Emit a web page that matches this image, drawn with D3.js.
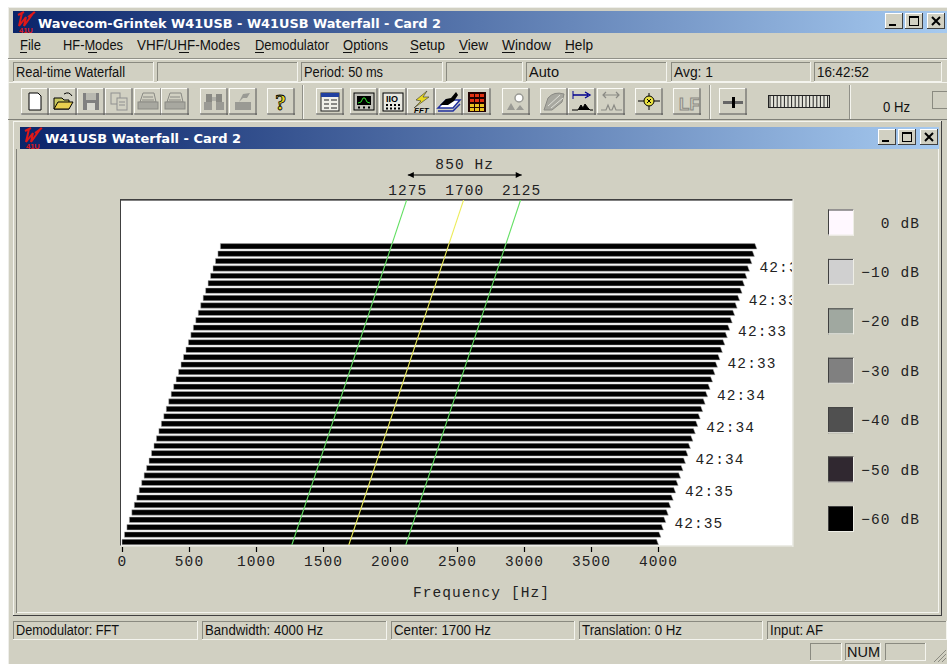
<!DOCTYPE html>
<html>
<head>
<meta charset="utf-8">
<script src="https://cdn.jsdelivr.net/npm/d3@7"></script>
<style>
  html, body { margin: 0; padding: 0; background: #fff; overflow: hidden; }
  svg { display: block; }
  .ui { font-family: "Liberation Sans", sans-serif; font-size: 14px; fill: #111; }
  .mono { font-family: "Liberation Mono", monospace; font-size: 14.5px; fill: #222; letter-spacing: 1.1px; }
</style>
</head>
<body>
<svg id="chart" width="947" height="664"></svg>
<script>
// Waterfall rows, oldest at the bottom. Every row reads as -60 dB across the band
const rowLevels = [-60, -60, -60, -60, -60, -60, -60, -60, -60, -60, -60, -60, -60, -60,
  -60, -60, -60, -60, -60, -60, -60, -60, -60, -60, -60, -60, -60, -60,
  -60, -60, -60, -60, -60, -60, -60, -60, -60, -60, -60, -60, -60];
const timeLabels = ["42:35", "42:35", "42:34", "42:34", "42:34", "42:33", "42:33", "42:33", "42:33"];
const timeLabelRows = [2.6, 6.9, 11.2, 15.5, 19.9, 24.2, 28.5, 32.8, 37.2];
const freqTicks = [0, 500, 1000, 1500, 2000, 2500, 3000, 3500, 4000];
const markerFreqs = [1275, 1700, 2125];
const markerColors = ["#63e063", "#ecec5a", "#63e063"];
const legendDb = [0, -10, -20, -30, -40, -50, -60];
const legendColors = ["#fff8ff", "#d0d0d0", "#a0a8a0", "#808080", "#505050", "#302830", "#000000"];
const bandwidth = 4000;

const menuItems = [["File", 20, 21], ["HF-Modes", 63, 60], ["VHF/UHF-Modes", 137, 103], ["Demodulator", 255, 74],
  ["Options", 343, 45], ["Setup", 410, 35], ["View", 459, 29], ["Window", 502, 49], ["Help", 565, 28]];
const topPanes = [[13, 154, "Real-time Waterfall", 109], [157, 298, "", 0], [301, 443, "Period: 50 ms", 79],
  [446, 523, "", 0], [526, 667, "Auto", 30], [671, 811, "Avg: 1", 39], [814, 942, "16:42:52", 52]];
const bottomPanes = [[13, 198, "Demodulator: FFT", 103], [202, 387, "Bandwidth: 4000 Hz", 118],
  [391, 575, "Center: 1700 Hz", 97], [579, 763, "Translation: 0 Hz", 100], [767, 947, "Input: AF", 53]];
const buttons = [[21, "new"], [49, "open"], [77, "save"], [105, "copy"], [134, "print"], [161, "print"],
  [200, "find"], [229, "tool"], [267, "help"], [316, "list"], [350, "scope"], [379, "io"], [407, "fft"],
  [435, "layers"], [463, "grid"], [502, "zoom"], [540, "fan"], [568, "shift"], [597, "stretch"],
  [635, "target"], [673, "lf"], [719, "slider"]];

const svg = d3.select("#chart");
const defs = svg.append("defs");
const grad = defs.append("linearGradient").attr("id", "titleGrad");
grad.append("stop").attr("offset", "0%").attr("stop-color", "#0a246a");
grad.append("stop").attr("offset", "100%").attr("stop-color", "#a6caf0");
defs.append("clipPath").attr("id", "plotClip").append("rect")
  .attr("x", 121).attr("y", 200).attr("width", 671).attr("height", 345);

const face = "#d1d0c2";

function box(g, x, y, w, h, fill, stroke) {
  return g.append("rect").attr("x", x).attr("y", y).attr("width", w).attr("height", h)
    .attr("fill", fill).attr("stroke", stroke || "none");
}
function hline(g, x1, x2, y, c) {
  g.append("line").attr("x1", x1).attr("x2", x2).attr("y1", y).attr("y2", y).attr("stroke", c);
}
function vline(g, x, y1, y2, c) {
  g.append("line").attr("x1", x).attr("x2", x).attr("y1", y1).attr("y2", y2).attr("stroke", c);
}
function sunken(g, x, y, w, h) {
  hline(g, x, x + w, y + 0.5, "#8a8a80"); vline(g, x + 0.5, y, y + h, "#8a8a80");
  hline(g, x, x + w, y + h - 0.5, "#f4f4ee"); vline(g, x + w - 0.5, y, y + h, "#f4f4ee");
}
function label(g, x, y, str, width, cls) {
  const t = g.append("text").attr("class", cls || "ui").attr("x", x).attr("y", y).text(str);
  if (width) t.attr("textLength", width).attr("lengthAdjust", "spacingAndGlyphs");
  return t;
}
function logo(g, x, y) {
  g.append("path").attr("transform", `translate(${x},${y})`)
    .attr("d", "M4 1 L1 14 L8 5 L6 14 L16 0 M0 3 L6 0 M10 5 L17 0")
    .attr("fill", "none").attr("stroke", "#e01818").attr("stroke-width", 2);
  g.append("text").attr("x", x + 1).attr("y", y + 20.5).attr("fill", "#e01818")
    .attr("font-family", "Liberation Sans").attr("font-size", 7.5).attr("font-weight", "bold").text("41U");
}
function closeButtons(g, xs, y) {
  xs.forEach((x, i) => {
    box(g, x, y, 18, 16, face);
    hline(g, x, x + 18, y + 0.5, "#fff"); vline(g, x + 0.5, y, y + 16, "#fff");
    hline(g, x, x + 18, y + 15.5, "#404040"); vline(g, x + 17.5, y, y + 16, "#404040");
    if (i == 0) box(g, x + 4, y + 11, 7, 2, "#000");
    if (i == 1) { box(g, x + 4.5, y + 3.5, 9, 9, "none", "#000"); hline(g, x + 4, x + 14, y + 4.5, "#000"); }
    if (i == 2) g.append("path").attr("d", `M${x + 5} ${y + 4}L${x + 13} ${y + 12}M${x + 13} ${y + 4}L${x + 5} ${y + 12}`)
      .attr("stroke", "#000").attr("stroke-width", 2);
  });
}

// Application window frame
box(svg, 8, 7, 939, 657, face);
hline(svg, 8, 947, 7.5, "#eeeeea");
vline(svg, 8.5, 7, 664, "#eeeeea");

// Title bar
box(svg, 13, 11, 934, 22, "url(#titleGrad)");
logo(svg, 18, 12);
label(svg, 38, 28, "Wavecom-Grintek W41USB - W41USB Waterfall  - Card 2", 403)
  .style("fill", "#fff").style("font-weight", "bold").style("font-size", "13px").style("font-family", "DejaVu Sans");
closeButtons(svg, [885, 905, 927], 13);

// Menu
menuItems.forEach(m => {
  label(svg, m[1], 50, m[0], m[2]);
});
[[20, 7], [88, 9], [179, 10], [255, 9], [343, 9], [410, 8], [459, 9], [502, 13], [565, 9]].forEach(u => {
  hline(svg, u[0], u[0] + u[1], 52.5, "#111");
});
hline(svg, 8, 947, 58.5, "#909088");
hline(svg, 8, 947, 59.5, "#f4f4ee");

// Top status row
topPanes.forEach(p => {
  sunken(svg, p[0], 62, p[1] - p[0], 20);
  if (p[2]) label(svg, p[0] + 3, 77, p[2], p[3]);
});
hline(svg, 8, 947, 82.5, "#f4f4ee");

// Toolbar
const icons = {
  new: g => g.append("path").attr("d", "M8 5H17L20 8V22H8Z").attr("fill", "#fff").attr("stroke", "#000"),
  open: g => {
    g.append("path").attr("d", "M5 21V10H13L15 12H20V21Z").attr("fill", "#c8c860").attr("stroke", "#000");
    g.append("path").attr("d", "M5 21L9 14H24L20 21Z").attr("fill", "#e8d050").attr("stroke", "#000");
    g.append("path").attr("d", "M15 6Q20 3 23 8").attr("fill", "none").attr("stroke", "#000");
  },
  save: g => { box(g, 6, 5, 16, 17, "#808080"); box(g, 9, 5, 10, 7, "#b8b8b0"); box(g, 10, 15, 8, 7, "#d8d8d0"); },
  copy: g => { box(g, 6, 5, 9, 11, face, "#909090"); box(g, 12, 10, 10, 12, face, "#909090"); hline(g, 14, 20, 14, "#909090"); hline(g, 14, 20, 17, "#909090"); },
  print: g => {
    g.append("path").attr("d", "M9 5H20L22 14H6Z").attr("fill", face).attr("stroke", "#8a8a84");
    box(g, 4, 14, 20, 7, "#a8a8a0", "#8a8a84");
    hline(g, 9, 19, 9, "#8a8a84"); hline(g, 8, 20, 12, "#8a8a84");
  },
  find: g => { box(g, 6, 6, 6, 10, "#8a8a84"); box(g, 16, 6, 6, 10, "#8a8a84"); box(g, 4, 14, 8, 8, "#9a9a94"); box(g, 16, 14, 8, 8, "#9a9a94"); box(g, 12, 9, 4, 4, "#b0b0a8"); },
  tool: g => { box(g, 6, 14, 16, 8, "#9a9a94"); g.append("path").attr("d", "M10 14L14 6L21 5L18 10L14 10").attr("fill", "#9a9a94"); },
  help: g => g.append("text").attr("x", 8).attr("y", 22).attr("font-family", "Liberation Serif").attr("font-size", 23)
    .attr("font-weight", "bold").attr("fill", "#e8d820").attr("stroke", "#000").attr("stroke-width", 0.8).text("?"),
  list: g => {
    box(g, 5, 5, 18, 18, "#f0f0e8", "#222"); box(g, 5, 5, 18, 4, "#2040a0");
    [12, 16, 20].forEach(y => { hline(g, 8, 13, y, "#222"); hline(g, 15, 21, y, "#222"); });
  },
  scope: g => {
    box(g, 4, 5, 20, 17, "#c0c0b8", "#000"); box(g, 7, 8, 14, 9, "#000");
    g.append("path").attr("d", "M8 15L11 14L13 10L15 10L17 14L20 15").attr("fill", "none").attr("stroke", "#30e030");
    [9, 14, 19].forEach(x => box(g, x - 1, 18.5, 2, 2, "#000"));
  },
  io: g => {
    box(g, 4, 5, 20, 18, "#e8e8e0", "#000");
    g.append("text").attr("x", 7).attr("y", 14).attr("font-family", "Liberation Sans").attr("font-size", 9).attr("font-weight", "bold").text("IIO");
    [7, 11, 15, 19].forEach(x => { box(g, x, 16, 2, 2, "#000"); box(g, x, 19.5, 2, 2, "#000"); });
  },
  fft: g => {
    g.append("path").attr("d", "M20 3L9 12L14 13L7 20L22 9L16 9Z").attr("fill", "#e8d820").attr("stroke", "#333").attr("stroke-width", 0.6);
    g.append("text").attr("x", 7).attr("y", 25).attr("font-family", "Liberation Sans").attr("font-size", 8).attr("font-style", "italic").attr("font-weight", "bold").text("FFT");
  },
  layers: g => {
    g.append("path").attr("d", "M3 20L11 12H25L18 20Z").attr("fill", "#fff").attr("stroke", "#2030a0").attr("stroke-width", 1.5);
    g.append("path").attr("d", "M5 17L11 11L16 10L21 4L23 7L19 13L13 17Z").attr("fill", "#000");
    g.append("path").attr("d", "M3 23H18L25 16").attr("fill", "none").attr("stroke", "#2030a0").attr("stroke-width", 1.5);
  },
  grid: g => {
    box(g, 5, 4, 18, 20, "#200000");
    [7, 12, 17].forEach(x => [6, 11, 16, 20].forEach(y => box(g, x, y, 4, 3, y > 14 ? "#e8c020" : "#e03010")));
  },
  zoom: g => {
    g.append("circle").attr("cx", 17).attr("cy", 10).attr("r", 4).attr("fill", "#fff").attr("stroke", "#9a9a94").attr("stroke-width", 1.5);
    g.append("path").attr("d", "M5 22L9 15L13 22ZM14 22L18 17L22 22Z").attr("fill", "#9a9a94");
  },
  fan: g => {
    g.append("path").attr("d", "M4 22L8 10Q14 3 24 6L22 14L12 22Z").attr("fill", "#a8a8a0").attr("stroke", "#8a8a84");
    [[8, 18, 20, 7], [11, 20, 23, 10]].forEach(p => g.append("line").attr("x1", p[0]).attr("y1", p[1]).attr("x2", p[2]).attr("y2", p[3]).attr("stroke", "#e0e0d8"));
  },
  shift: g => {
    g.append("path").attr("d", "M5 7H20M17 4L22 7L17 10").attr("fill", "none").attr("stroke", "#000090").attr("stroke-width", 1.3);
    vline(g, 5, 3, 11, "#000090");
    g.append("path").attr("d", "M4 22H10L13 17L15 20L17 16L20 20L22 22H25").attr("fill", "#000").attr("stroke", "#000");
  },
  stretch: g => {
    g.append("path").attr("d", "M6 7H22M9 4L6 7L9 10M19 4L22 7L19 10").attr("fill", "none").attr("stroke", "#8a8a84").attr("stroke-width", 1.2);
    g.append("path").attr("d", "M4 22H9L11 17L13 22H15L17 17L19 22H25").attr("fill", "none").attr("stroke", "#8a8a84").attr("stroke-width", 1.2);
  },
  target: g => {
    g.append("path").attr("d", "M3 13H25M14 5V22").attr("stroke", "#000");
    g.append("circle").attr("cx", 14).attr("cy", 13).attr("r", 5).attr("fill", "#e8e040").attr("stroke", "#000");
    g.append("path").attr("d", "M12 11L16 15M16 11L12 15").attr("stroke", "#000");
  },
  lf: g => g.append("text").attr("x", 6).attr("y", 22).attr("font-family", "Liberation Sans").attr("font-size", 17)
    .attr("font-weight", "bold").attr("fill", face).attr("stroke", "#8a8a84").text("LF"),
  slider: g => { box(g, 4, 13, 20, 3, "#666"); box(g, 13, 9, 3, 11, "#000"); }
};
buttons.forEach(b => {
  const g = svg.append("g").attr("transform", `translate(${b[0]},88)`);
  box(g, 0, 0, 27.5, 27, face);
  hline(g, 0, 28, 0.5, "#fbfbf6"); vline(g, 0.5, 0, 27, "#fbfbf6");
  hline(g, 0, 28, 26, "#555"); vline(g, 27, 0, 27, "#555");
  icons[b[1]](g);
});
[303.5, 710.5, 850.5].forEach(x => {
  vline(svg, x, 85, 119, "#f4f4ee"); vline(svg, x - 1, 85, 119, "#909088");
});
// level meter in the toolbar
box(svg, 768.5, 95.5, 61, 12, "#e4e4da", "#222");
d3.range(770, 829, 3.6).forEach(x => vline(svg, x, 96, 107, "#222"));
label(svg, 883, 112, "0 Hz", 27);
hline(svg, 932, 947, 91.5, "#8a8a80"); vline(svg, 932.5, 91, 109, "#8a8a80");
hline(svg, 932, 947, 108.5, "#8a8a80");
hline(svg, 8, 947, 119.5, "#808078");

// Child window
box(svg, 13, 121, 929, 495, face);
hline(svg, 13, 942, 121.5, "#f4f4ee"); vline(svg, 13.5, 121, 616, "#f4f4ee");
hline(svg, 13, 942, 615.5, "#404040"); vline(svg, 941.5, 121, 616, "#404040");
hline(svg, 16, 939, 612.5, "#f4f4ee"); vline(svg, 938.5, 149, 613, "#f4f4ee");
vline(svg, 16.5, 149, 613, "#808078");
box(svg, 20, 127, 919, 22, "url(#titleGrad)");
logo(svg, 25, 128);
label(svg, 45, 143, "W41USB Waterfall  - Card 2", 196)
  .style("fill", "#fff").style("font-weight", "bold").style("font-size", "13px").style("font-family", "DejaVu Sans");
closeButtons(svg, [878, 898, 920], 129);

// Plot
const xScale = d3.scaleLinear().domain([0, bandwidth]).range([122, 658]);
const yScale = d3.scaleLinear().domain([0, rowLevels.length - 1]).range([542, 246.3]);
const colorScale = d3.scaleOrdinal().domain(legendDb).range(legendColors);
// Each newer row is pushed right, that is the 3D look of the waterfall
const shear = 2.46;
const shiftX = row => shear * row;
const topRow = yScale.invert(199.5);
const bottomRow = yScale.invert(545);

box(svg, 120.5, 199.5, 672, 346, "#fff");
hline(svg, 120, 793, 199.5, "#404040"); hline(svg, 120, 793, 200.5, "#808080");
vline(svg, 120.5, 199, 546, "#404040");
hline(svg, 120, 793, 546, "#f0f0ea"); vline(svg, 793, 199, 547, "#f0f0ea");

const plot = svg.append("g").attr("clip-path", "url(#plotClip)");
const barH = 5.4;
plot.selectAll(".row").data(rowLevels).enter().append("path")
  .attr("class", "row")
  .attr("fill", d => colorScale(d))
  .attr("stroke", "#b0b0b0")
  .attr("stroke-width", 0.5)
  .attr("d", (d, i) => {
    const x0 = xScale(0) + shiftX(i), x1 = xScale(bandwidth) + shiftX(i), y = yScale(i);
    return `M${x0} ${y - barH / 2}H${x1 - 1.5}L${x1 + 0.5} ${y + barH / 2}H${x0}Z`;
  });

plot.selectAll(".marker").data(markerFreqs).enter().append("line")
  .attr("class", "marker")
  .attr("x1", d => xScale(d) + shiftX(bottomRow))
  .attr("y1", yScale(bottomRow))
  .attr("x2", d => xScale(d) + shiftX(topRow))
  .attr("y2", yScale(topRow))
  .attr("stroke", (d, i) => markerColors[i])
  .attr("stroke-width", 1.1);

plot.selectAll(".time").data(timeLabels).enter().append("text")
  .attr("class", "mono time")
  .attr("x", (d, i) => xScale(bandwidth) + shiftX(timeLabelRows[i]) + 10)
  .attr("y", (d, i) => yScale(timeLabelRows[i]) + 5)
  .text(d => d);

// Frequency axis
const axis = d3.axisBottom(xScale).tickValues(freqTicks).tickSize(5).tickPadding(5).tickFormat(d3.format("d"));
const axisG = svg.append("g").attr("transform", "translate(0,547)").call(axis);
axisG.select(".domain").remove();
axisG.selectAll(".tick line").attr("stroke", "#000").attr("stroke-width", 1.2);
axisG.selectAll("text").attr("class", "mono").attr("dy", null).attr("y", 19);
svg.append("text").attr("class", "mono").attr("x", 481.5).attr("y", 597).attr("text-anchor", "middle").text("Frequency [Hz]");

// Shift markers above the plot
const topX = f => xScale(f) + shiftX(topRow) + 1;
svg.selectAll(".markerLabel").data(markerFreqs).enter().append("text")
  .attr("class", "mono markerLabel")
  .attr("x", d => topX(d)).attr("y", 195).attr("text-anchor", "middle").text(d => d);
svg.append("text").attr("class", "mono").attr("x", topX(markerFreqs[1])).attr("y", 168.5)
  .attr("text-anchor", "middle").text(`${markerFreqs[2] - markerFreqs[0]}  Hz`);
hline(svg, topX(markerFreqs[0]), topX(markerFreqs[2]), 175, "#000");
svg.append("path").attr("fill", "#000").attr("d", () => {
  const a = topX(markerFreqs[0]), b = topX(markerFreqs[2]);
  return `M${a} 175l6 -3v6ZM${b} 175l-6 -3v6Z`;
});

// Colour legend
const legendY = d3.scaleLinear().domain([0, -60]).range([222.5, 519]);
legendDb.forEach((db, i) => {
  const y = legendY(db);
  box(svg, 828, y - 13, 26, 26, legendColors[i]);
  hline(svg, 828, 854, y - 12.5, "#404040"); vline(svg, 828.5, y - 13, y + 13, "#404040");
  hline(svg, 828, 854, y + 12.5, "#eeeee6"); vline(svg, 853.5, y - 13, y + 13, "#eeeee6");
  svg.append("text").attr("class", "mono").attr("x", 920).attr("y", y + 5).attr("text-anchor", "end")
    .text(`${db === 0 ? "0" : "\u2212" + Math.abs(db)}  dB`);
});

// Bottom status bars
bottomPanes.forEach(p => {
  sunken(svg, p[0], 621, p[1] - p[0], 19);
  label(svg, p[0] + 3, 635, p[2], p[3]);
});
[[810, 842, ""], [845, 881, "NUM"], [885, 926, ""]].forEach(p => {
  sunken(svg, p[0], 643, p[1] - p[0], 18);
  if (p[2]) label(svg, p[0] + 2, 657, p[2], 33);
});
[0, 4, 8].forEach(d => svg.append("line").attr("x1", 934 + d).attr("y1", 662).attr("x2", 946).attr("y2", 650 + d).attr("stroke", "#8a8a80"));
</script>
</body>
</html>
